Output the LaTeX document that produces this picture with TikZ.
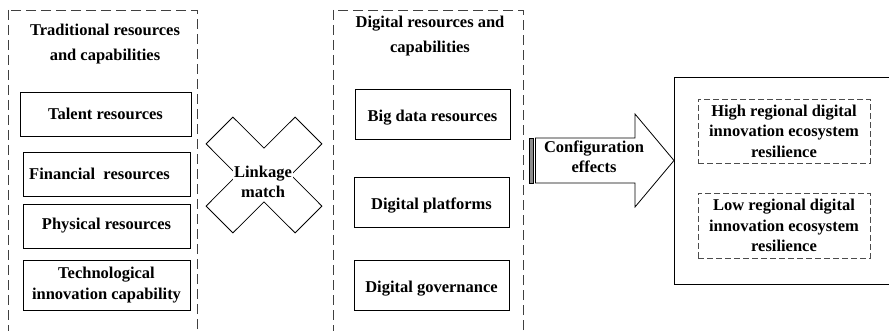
\documentclass[tikz,border=0pt]{standalone}
\usepackage{fontspec}
\setmainfont{Liberation Serif}
\usetikzlibrary{arrows.meta}
\usetikzlibrary{shapes}

\tikzset{
    groupbox/.style={draw=black!75, line width=0.8pt, dash pattern=on 10pt off 5pt},
    heading/.style={align=center, font=\bfseries\fontsize{16.5}{25}\selectfont},
    resbox/.style={draw, line width=0.8pt, minimum width=167pt, minimum height=44pt, align=center, inner sep=2pt},
    digbox/.style={draw, line width=0.8pt, minimum width=155pt, minimum height=50pt, text height=19pt, text depth=4pt},
    outcome/.style={draw=black!70, line width=0.8pt, dash pattern=on 6pt off 3pt, minimum width=172pt, minimum height=64pt, align=center},
}

\begin{document}
\begin{tikzpicture}[x=1pt, y=-1pt, font=\bfseries\fontsize{16.5}{20.5}\selectfont]

    \clip (0, 0) rectangle (889, 331);

    % Declare the two groups
    \draw[groupbox] (8, 10) rectangle (197, 345);
    \draw[groupbox] (333, 10) rectangle (523, 345);
    \node[heading] at (105, 44) (tradtitle) {Traditional resources\\and capabilities};
    \node[heading] at (430, 36.5) (digtitle) {Digital resources and\\capabilities};

    % Declare traditional resources
    \node[resbox, minimum width=171pt] at (105.5, 114) (talent) {Talent resources};
    \node[resbox] at (106.5, 174) (finance) {Financial\ \ resources\hspace*{14pt}};
    \node[resbox] at (106.5, 226) (physical) {Physical resources};
    \node[resbox, minimum height=50pt] at (106.5, 285) (techinno) {Technological\\innovation capability};

    % Declare digital resources
    \node[digbox] at (432.5, 114) (bigdata) {Big data resources};
    \node[digbox] at (431.5, 202) (platform) {Digital platforms};
    \node[digbox] at (431.5, 285) (govern) {Digital governance};

    % Declare the cross
    \draw[line width=0.8pt] (264, 148.1) -- (295.1, 117.1) -- (321.9, 143.9) -- (290.9, 175)
        -- (321.9, 206.1) -- (295.1, 232.9) -- (264, 201.9) -- (232.9, 232.9)
        -- (206.1, 206.1) -- (237.1, 175) -- (206.1, 143.9) -- (232.9, 117.1) -- cycle;
    \node[align=center, fill=white, inner sep=1pt] at (263, 182) (link) {Linkage\\match};

    % Declare the arrow
    \draw[line width=0.8pt, fill=black!45] (529.5, 138) rectangle (533.5, 183);
    \draw[line width=0.8pt] (535.5, 138) -- (635, 138) -- (635, 114) -- (674, 160.5)
        -- (635, 207) -- (635, 183) -- (535.5, 183) -- cycle;
    \node[align=center] at (594, 157) (effect) {Configuration\\effects};

    % Declare the outcomes
    \draw[line width=0.8pt] (674, 77) rectangle (900, 284);
    \node[outcome] at (784, 131) (high) {High regional digital\\innovation ecosystem\\resilience};
    \node[outcome, minimum height=65pt] at (784, 225.5) (low) {Low regional digital\\innovation ecosystem\\resilience};

\end{tikzpicture}
\end{document}
